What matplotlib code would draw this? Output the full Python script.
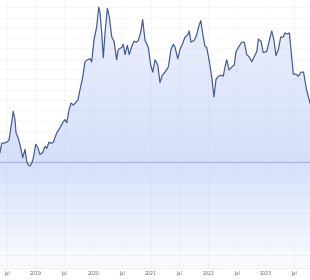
import matplotlib
matplotlib.use("Agg")
import matplotlib.pyplot as plt
import matplotlib.dates as mdates
from matplotlib.colors import LinearSegmentedColormap
import numpy as np
import pandas as pd

# values (relative units, 0 = dark horizontal line)
dates = [
    "2018-05-18", "2018-05-29", "2018-06-08", "2018-06-30", "2018-07-14", "2018-07-31",
    "2018-08-10", "2018-08-21", "2018-08-28", "2018-09-11", "2018-09-26", "2018-10-09",
    "2018-10-24", "2018-11-04", "2018-11-14", "2018-11-25", "2018-12-07", "2018-12-16",
    "2018-12-31", "2019-01-13", "2019-01-27", "2019-02-13", "2019-02-28", "2019-03-11",
    "2019-03-25", "2019-04-07", "2019-04-22", "2019-05-13", "2019-06-03", "2019-06-20",
    "2019-07-05", "2019-07-16", "2019-07-30", "2019-08-12", "2019-08-27", "2019-09-13",
    "2019-09-25", "2019-10-08", "2019-10-25", "2019-11-09", "2019-11-24", "2019-12-11",
    "2019-12-21", "2020-01-05", "2020-01-22", "2020-02-04", "2020-02-12", "2020-02-23",
    "2020-03-04", "2020-03-15", "2020-03-30", "2020-04-11", "2020-04-27", "2020-05-11",
    "2020-05-28", "2020-06-07", "2020-06-29", "2020-07-09", "2020-07-20", "2020-08-04",
    "2020-08-16", "2020-09-01", "2020-09-15", "2020-10-02", "2020-10-13", "2020-10-28",
    "2020-11-09", "2020-11-24", "2020-12-15", "2020-12-30", "2021-01-12", "2021-01-27",
    "2021-02-13", "2021-02-27", "2021-03-14", "2021-03-31", "2021-04-21", "2021-05-08",
    "2021-05-23", "2021-06-03", "2021-06-20", "2021-07-04", "2021-07-19", "2021-08-05",
    "2021-08-22", "2021-09-01", "2021-09-12", "2021-10-03", "2021-10-18", "2021-10-29",
    "2021-11-13", "2021-11-29", "2021-12-10", "2021-12-21", "2022-01-07", "2022-01-22",
    "2022-02-05", "2022-02-18", "2022-03-05", "2022-03-22", "2022-04-05", "2022-04-16",
    "2022-04-27", "2022-05-12", "2022-05-29", "2022-06-14", "2022-06-25", "2022-07-14",
    "2022-07-31", "2022-08-17", "2022-09-01", "2022-09-16", "2022-10-03", "2022-10-19",
    "2022-11-04", "2022-11-14", "2022-12-01", "2022-12-15", "2023-01-06", "2023-01-23",
    "2023-02-07", "2023-02-21", "2023-03-06", "2023-03-21", "2023-04-05", "2023-04-20",
    "2023-05-02", "2023-05-17", "2023-05-30", "2023-06-13", "2023-06-24", "2023-07-11",
    "2023-07-26", "2023-08-12", "2023-08-28", "2023-09-16", "2023-10-08",
]
values = [
    9, 18, 18, 19, 21, 38,
    49, 41, 28, 23, 14, 4,
    12, 0, -3, -4, -1, 4,
    17, 14, 7, 9, 15, 13,
    19, 18, 19, 28, 33, 38,
    41, 38, 50, 57, 55, 58,
    60, 70, 82, 97, 99, 100,
    97, 118, 131, 150, 145, 125,
    101, 125, 149, 141, 121, 117,
    99, 109, 111, 114, 104, 113,
    104, 112, 117, 116, 118, 126,
    138, 118, 111, 94, 87, 99,
    94, 77, 84, 87, 92, 109,
    114, 111, 100, 109, 114, 121,
    123, 127, 116, 118, 123, 130,
    137, 121, 112, 111, 97, 82,
    63, 80, 83, 84, 83, 92,
    99, 89, 92, 94, 107, 112,
    116, 116, 104, 102, 97, 102,
    107, 119, 117, 106, 107, 118,
    127, 118, 103, 109, 121, 121,
    125, 124, 125, 102, 85, 85,
    83, 87, 87, 70, 57,
]

x = pd.to_datetime(dates)
y = np.array(values, dtype=float)
y_lo, y_hi = -103, 157

fig = plt.figure(figsize=(3.1, 2.8), dpi=100)
ax = fig.add_axes([0, 0.043, 1, 0.957])
ax.set_xlim(x[0], x[-1])
ax.set_ylim(y_lo, y_hi)

# gradient fill under the line
cmap = LinearSegmentedColormap.from_list(
    "area", [(0.0, "#fbfcff"), (0.4, "#d6e0fa"), (1.0, "#eef2fd")])
grad = np.linspace(0, 1, 256).reshape(-1, 1)
x0, x1 = mdates.date2num(x[0]), mdates.date2num(x[-1])
img = ax.imshow(grad, cmap=cmap, aspect="auto", origin="lower",
                extent=[x0, x1, y_lo, y_hi], zorder=1)
poly = ax.fill_between(x, y, y_lo, color="none", lw=0)
clip = poly.get_paths()[0]
img.set_clip_path(clip, transform=ax.transData)

ax.axhline(0, color="#a9b9e4", lw=0.8, zorder=2)
ax.plot(x, y, color="#3d5a8f", lw=0.85, zorder=3)

# ticks: Jan / Jul
ticks = pd.date_range("2018-07-01", "2023-07-01", freq="6MS")
labels = [str(t.year) if t.month == 1 else "Jul" for t in ticks]
ax.set_xticks(ticks)
ax.set_xticklabels(labels, fontsize=3.4, color="#666666")
ax.set_yticks(np.arange(-100, 160, 10))
ax.tick_params(axis="x", length=0, pad=2.2)
ax.tick_params(axis="y", length=0, labelleft=False)
ax.grid(True, color="#8080a0", alpha=0.07, lw=0.5, zorder=1.5)
ax.set_axisbelow(False)

for s in ["top", "left", "right"]:
    ax.spines[s].set_visible(False)
ax.spines["bottom"].set_color("#e8e8e8")
ax.spines["bottom"].set_linewidth(0.5)

fig.savefig("out.png", dpi=100)
